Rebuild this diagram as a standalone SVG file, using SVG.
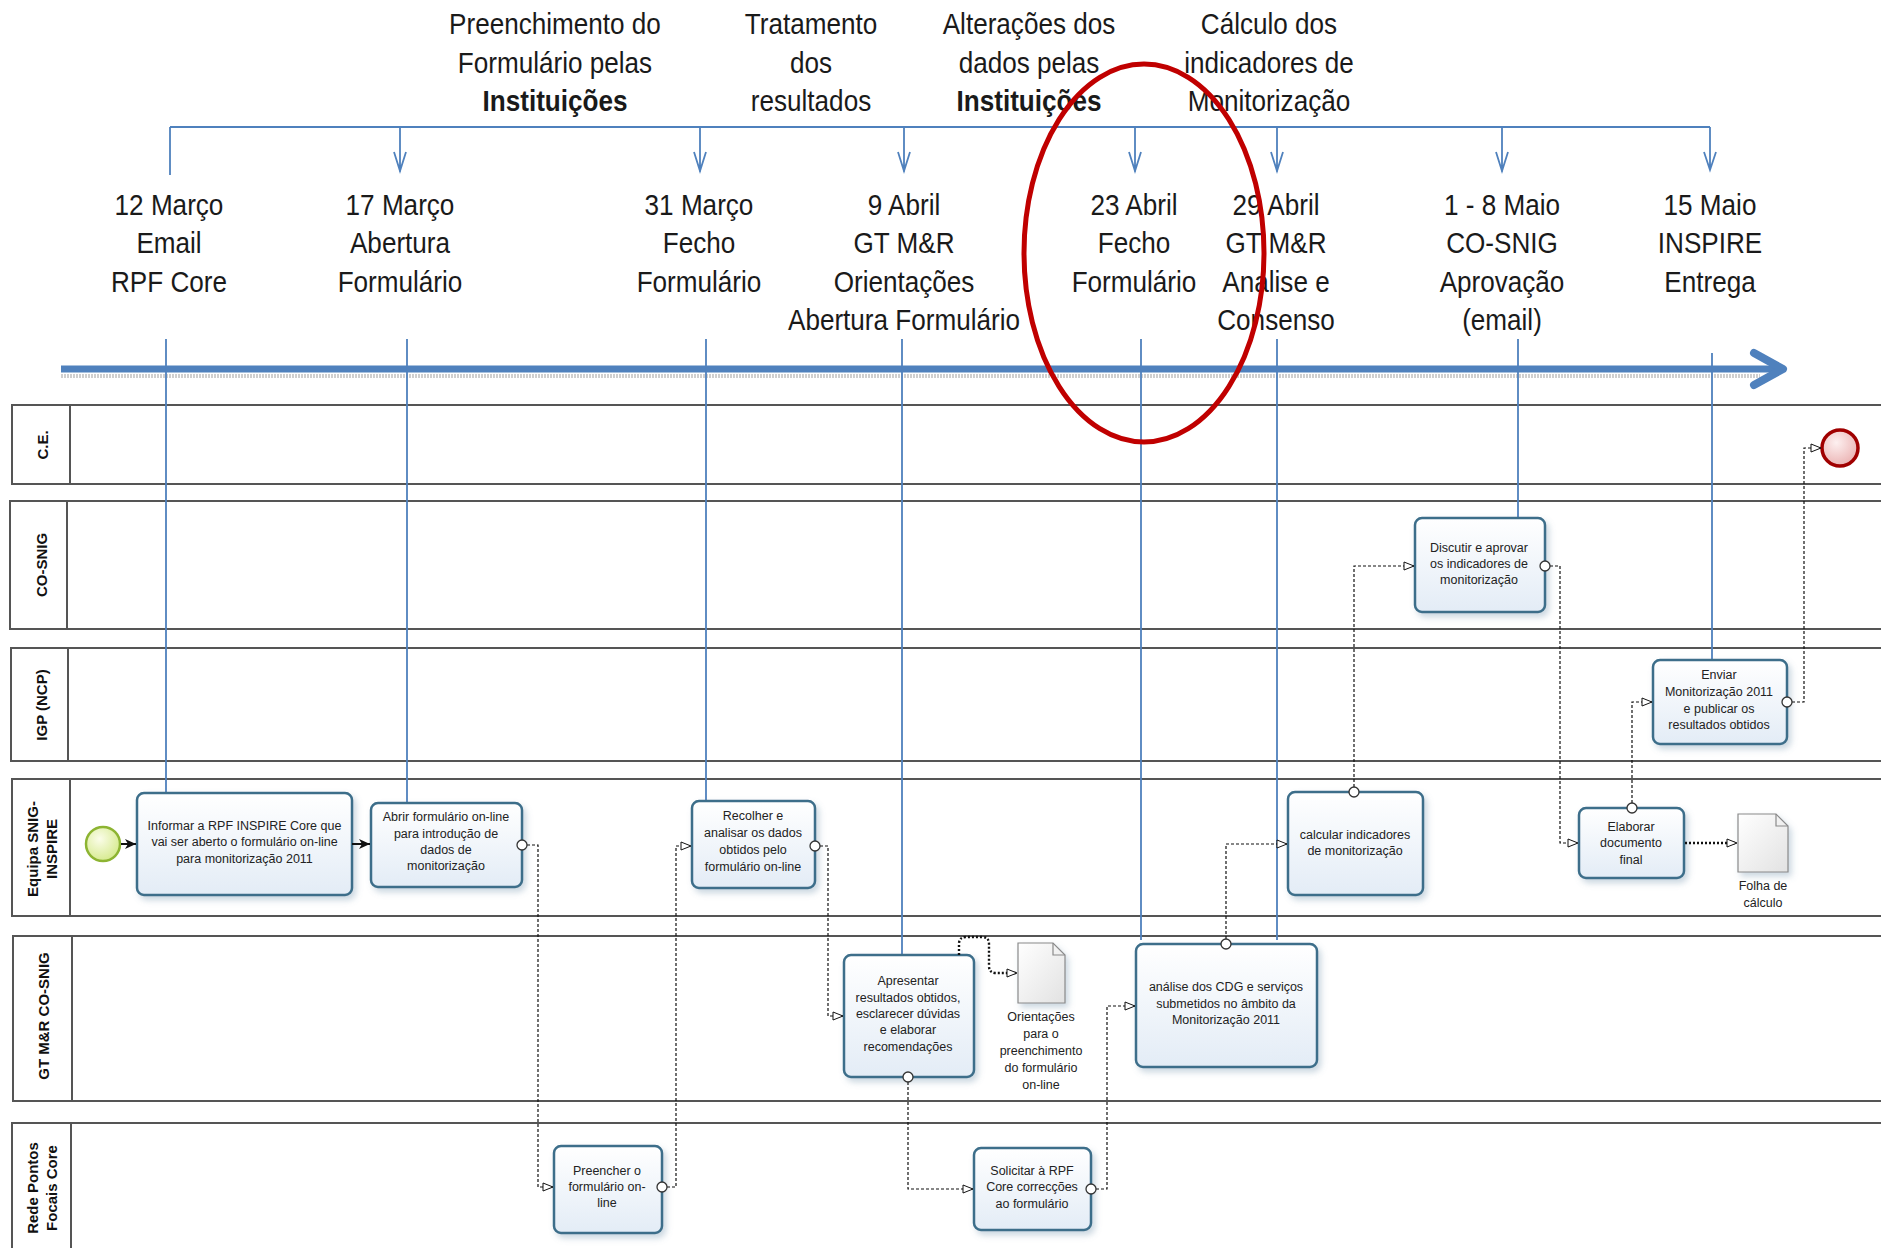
<svg xmlns="http://www.w3.org/2000/svg" width="1881" height="1248" viewBox="0 0 1881 1248">
<style>
.hd{font-family:"Liberation Sans",Arial,sans-serif;font-size:30px;fill:#1a1a1a;text-anchor:middle}
.hb{font-weight:bold}
.tk{font-family:"Liberation Sans",Arial,sans-serif;font-size:12.5px;fill:#222;text-anchor:middle}
.ln{font-family:"Liberation Sans",Arial,sans-serif;font-weight:bold;font-size:15px;fill:#111;text-anchor:middle}
.lane{fill:none;stroke:#555;stroke-width:2}
.blue{fill:none;stroke:#4F81BD;stroke-width:1.8}
.box{fill:url(#bg);stroke:#3C6E8A;stroke-width:2.5;filter:url(#sh)}
.doc{fill:url(#dg);stroke:#8a8a8a;stroke-width:1.2;filter:url(#sh)}
.flow{fill:none;stroke:#111;stroke-width:1.2;stroke-dasharray:3 2;marker-start:url(#oc);marker-end:url(#oa)}
.assoc{fill:none;stroke:#111;stroke-width:2.4;stroke-dasharray:2 2;marker-end:url(#oa)}
.seq{fill:none;stroke:#111;stroke-width:2;marker-end:url(#sa)}
</style>
<defs>
<linearGradient id="bg" x1="0" y1="0" x2="0" y2="1"><stop offset="0" stop-color="#ffffff"/><stop offset="1" stop-color="#e3ecf6"/></linearGradient>
<linearGradient id="dg" x1="0" y1="0" x2="1" y2="1"><stop offset="0" stop-color="#ffffff"/><stop offset="1" stop-color="#e2e2e2"/></linearGradient>
<radialGradient id="gs" cx="0.4" cy="0.35" r="0.7"><stop offset="0" stop-color="#fbfde9"/><stop offset="1" stop-color="#d4e98a"/></radialGradient>
<radialGradient id="ge" cx="0.4" cy="0.35" r="0.7"><stop offset="0" stop-color="#fdf0f0"/><stop offset="1" stop-color="#eab0b0"/></radialGradient>
<filter id="sh" x="-20%" y="-20%" width="150%" height="150%"><feDropShadow dx="3" dy="4" stdDeviation="3" flood-color="#6b8fa8" flood-opacity="0.35"/></filter>
<marker id="oa" viewBox="0 0 12 10" refX="11" refY="5" markerWidth="12" markerHeight="10" markerUnits="userSpaceOnUse" orient="auto"><path d="M1,1 L11,5 L1,9 Z" fill="#fff" stroke="#111" stroke-width="1"/></marker>
<marker id="oc" viewBox="0 0 14 14" refX="7" refY="7" markerWidth="14" markerHeight="14" markerUnits="userSpaceOnUse"><circle cx="7" cy="7" r="5" fill="#fff" stroke="#333" stroke-width="1.3"/></marker>
<marker id="sa" viewBox="0 0 12 10" refX="11" refY="5" markerWidth="12" markerHeight="10" markerUnits="userSpaceOnUse" orient="auto"><path d="M0,0 L11,5 L0,10 L3,5 Z" fill="#111"/></marker>
</defs>
<rect width="1881" height="1248" fill="#ffffff"/>

<g id="lanes">
<rect class="lane" x="12" y="405" width="1890" height="79"/><line class="lane" x1="70" y1="405" x2="70" y2="484"/>
<rect class="lane" x="10" y="501" width="1890" height="128"/><line class="lane" x1="67" y1="501" x2="67" y2="629"/>
<rect class="lane" x="11" y="648" width="1890" height="113"/><line class="lane" x1="68" y1="648" x2="68" y2="761"/>
<rect class="lane" x="12" y="779" width="1890" height="137"/><line class="lane" x1="70" y1="779" x2="70" y2="916"/>
<rect class="lane" x="13" y="936" width="1890" height="165"/><line class="lane" x1="72" y1="936" x2="72" y2="1101"/>
<rect class="lane" x="12" y="1123" width="1890" height="160"/><line class="lane" x1="71" y1="1123" x2="71" y2="1248"/>
<text class="ln" transform="translate(48,445) rotate(-90)">C.E.</text>
<text class="ln" transform="translate(47,565) rotate(-90)">CO-SNIG</text>
<text class="ln" transform="translate(47,705) rotate(-90)">IGP (NCP)</text>
<text class="ln" transform="translate(38,849) rotate(-90)">Equipa SNIG-</text>
<text class="ln" transform="translate(57,849) rotate(-90)">INSPIRE</text>
<text class="ln" transform="translate(49,1016) rotate(-90)">GT M&amp;R CO-SNIG</text>
<text class="ln" transform="translate(38,1188) rotate(-90)">Rede Pontos</text>
<text class="ln" transform="translate(57,1188) rotate(-90)">Focais Core</text>
</g>

<g id="header">
<g transform="translate(555,0) scale(0.87,1)"><text class="hd" x="0" y="34">Preenchimento do</text><text class="hd" x="0" y="73">Formulário pelas</text><text class="hd hb" x="0" y="111">Instituições</text></g>
<g transform="translate(811,0) scale(0.87,1)"><text class="hd" x="0" y="34">Tratamento</text><text class="hd" x="0" y="73">dos</text><text class="hd" x="0" y="111">resultados</text></g>
<g transform="translate(1029,0) scale(0.87,1)"><text class="hd" x="0" y="34">Alterações dos</text><text class="hd" x="0" y="73">dados pelas</text><text class="hd hb" x="0" y="111">Instituições</text></g>
<g transform="translate(1269,0) scale(0.87,1)"><text class="hd" x="0" y="34">Cálculo dos</text><text class="hd" x="0" y="73">indicadores de</text><text class="hd" x="0" y="111">Monitorização</text></g>

<path class="blue" d="M170,127 H1710"/>
<path class="blue" d="M170,127 V175"/>
<path class="blue" d="M400,127 V172 M394,152 L400,171 L406,152"/>
<path class="blue" d="M700,127 V172 M694,152 L700,171 L706,152"/>
<path class="blue" d="M904,127 V172 M898,152 L904,171 L910,152"/>
<path class="blue" d="M1135,127 V172 M1129,152 L1135,171 L1141,152"/>
<path class="blue" d="M1277,127 V172 M1271,152 L1277,171 L1283,152"/>
<path class="blue" d="M1502,127 V172 M1496,152 L1502,171 L1508,152"/>
<path class="blue" d="M1710,127 V170 M1704,152 L1710,170 L1716,152"/>

<g transform="translate(169,0) scale(0.87,1)"><text class="hd" x="0" y="215">12 Março</text><text class="hd" x="0" y="253.5">Email</text><text class="hd" x="0" y="292">RPF Core</text></g>
<g transform="translate(400,0) scale(0.87,1)"><text class="hd" x="0" y="215">17 Março</text><text class="hd" x="0" y="253.5">Abertura</text><text class="hd" x="0" y="292">Formulário</text></g>
<g transform="translate(699,0) scale(0.87,1)"><text class="hd" x="0" y="215">31 Março</text><text class="hd" x="0" y="253.5">Fecho</text><text class="hd" x="0" y="292">Formulário</text></g>
<g transform="translate(904,0) scale(0.87,1)"><text class="hd" x="0" y="215">9 Abril</text><text class="hd" x="0" y="253.5">GT M&amp;R</text><text class="hd" x="0" y="292">Orientações</text><text class="hd" x="0" y="330.5">Abertura Formulário</text></g>
<g transform="translate(1134,0) scale(0.87,1)"><text class="hd" x="0" y="215">23 Abril</text><text class="hd" x="0" y="253.5">Fecho</text><text class="hd" x="0" y="292">Formulário</text></g>
<g transform="translate(1276,0) scale(0.87,1)"><text class="hd" x="0" y="215">29 Abril</text><text class="hd" x="0" y="253.5">GT M&amp;R</text><text class="hd" x="0" y="292">Analise e</text><text class="hd" x="0" y="330.5">Consenso</text></g>
<g transform="translate(1502,0) scale(0.87,1)"><text class="hd" x="0" y="215">1 - 8 Maio</text><text class="hd" x="0" y="253.5">CO-SNIG</text><text class="hd" x="0" y="292">Aprovação</text><text class="hd" x="0" y="330.5">(email)</text></g>
<g transform="translate(1710,0) scale(0.87,1)"><text class="hd" x="0" y="215">15 Maio</text><text class="hd" x="0" y="253.5">INSPIRE</text><text class="hd" x="0" y="292">Entrega</text></g>
</g>

<g id="timeline">
<line x1="61" y1="376" x2="1760" y2="376" stroke="#cfcfcf" stroke-width="4" stroke-dasharray="2 1"/>
<line x1="61" y1="369" x2="1780" y2="369" stroke="#4F81BD" stroke-width="7"/>
<polyline points="1754,353 1783,369 1754,385" fill="none" stroke="#4F81BD" stroke-width="8" stroke-linecap="round" stroke-linejoin="round"/>
<path class="blue" d="M166,339 V792 M407,339 V803 M706,339 V801 M902,339 V955 M1141,339 V940 M1277,339 V940 M1518,339 V518 M1712,353 V660"/>
</g>

<g id="start"><circle cx="103" cy="844" r="17" fill="url(#gs)" stroke="#8DB432" stroke-width="2.5"/></g>
<g id="end"><circle cx="1840" cy="448" r="18" fill="url(#ge)" stroke="#A00000" stroke-width="3.5"/></g>

<g id="informar"><rect class="box" x="137" y="793" width="215" height="102" rx="7"/>
<text class="tk" x="244.5" y="830">Informar a RPF INSPIRE Core que</text><text class="tk" x="244.5" y="846">vai ser aberto o formulário on-line</text><text class="tk" x="244.5" y="863">para monitorização 2011</text></g>
<g id="abrir"><rect class="box" x="371" y="803" width="151" height="84" rx="7"/>
<text class="tk" x="446" y="821">Abrir formulário on-line</text><text class="tk" x="446" y="837.5">para introdução de</text><text class="tk" x="446" y="854">dados de</text><text class="tk" x="446" y="870">monitorização</text></g>
<g id="recolher"><rect class="box" x="692" y="801" width="123" height="87" rx="7"/>
<text class="tk" x="753" y="820">Recolher e</text><text class="tk" x="753" y="837">analisar os dados</text><text class="tk" x="753" y="854">obtidos pelo</text><text class="tk" x="753" y="871">formulário on-line</text></g>
<g id="preencher"><rect class="box" x="554" y="1146" width="108" height="87" rx="7"/>
<text class="tk" x="607" y="1175">Preencher o</text><text class="tk" x="607" y="1191">formulário on-</text><text class="tk" x="607" y="1207">line</text></g>
<g id="apresentar"><rect class="box" x="844" y="955" width="130" height="122" rx="7"/>
<text class="tk" x="908" y="985">Apresentar</text><text class="tk" x="908" y="1001.5">resultados obtidos,</text><text class="tk" x="908" y="1018">esclarecer dúvidas</text><text class="tk" x="908" y="1034">e elaborar</text><text class="tk" x="908" y="1051">recomendações</text></g>
<g id="orientacoes"><path class="doc" d="M1018,943 H1053 L1065,955 V1003 H1018 Z"/><path d="M1053,943 V955 H1065" fill="none" stroke="#8a8a8a" stroke-width="1.2"/>
<text class="tk" x="1041" y="1021">Orientações</text><text class="tk" x="1041" y="1038">para o</text><text class="tk" x="1041" y="1055">preenchimento</text><text class="tk" x="1041" y="1072">do formulário</text><text class="tk" x="1041" y="1089">on-line</text></g>
<g id="solicitar"><rect class="box" x="974" y="1148" width="117" height="82" rx="7"/>
<text class="tk" x="1032" y="1175">Solicitar  à RPF</text><text class="tk" x="1032" y="1191">Core  correcções</text><text class="tk" x="1032" y="1208">ao formulário</text></g>
<g id="analise"><rect class="box" x="1136" y="944" width="181" height="123" rx="7"/>
<text class="tk" x="1226" y="991">análise dos CDG e serviços</text><text class="tk" x="1226" y="1008">submetidos no âmbito da</text><text class="tk" x="1226" y="1024">Monitorização 2011</text></g>
<g id="calcular"><rect class="box" x="1288" y="792" width="135" height="103" rx="7"/>
<text class="tk" x="1355" y="839">calcular indicadores</text><text class="tk" x="1355" y="855">de monitorização</text></g>
<g id="discutir"><rect class="box" x="1415" y="518" width="130" height="94" rx="7"/>
<text class="tk" x="1479" y="552">Discutir e aprovar</text><text class="tk" x="1479" y="568">os indicadores de</text><text class="tk" x="1479" y="584">monitorização</text></g>
<g id="enviar"><rect class="box" x="1653" y="660" width="134" height="84" rx="7"/>
<text class="tk" x="1719" y="679">Enviar</text><text class="tk" x="1719" y="696">Monitorização 2011</text><text class="tk" x="1719" y="713">e publicar os</text><text class="tk" x="1719" y="729">resultados obtidos</text></g>
<g id="elaborar"><rect class="box" x="1579" y="808" width="105" height="70" rx="7"/>
<text class="tk" x="1631" y="831">Elaborar</text><text class="tk" x="1631" y="847">documento</text><text class="tk" x="1631" y="864">final</text></g>
<g id="folha"><path class="doc" d="M1738,814 H1776 L1788,826 V872 H1738 Z"/><path d="M1776,814 V826 H1788" fill="none" stroke="#8a8a8a" stroke-width="1.2"/>
<text class="tk" x="1763" y="890">Folha de</text><text class="tk" x="1763" y="907">cálculo</text></g>

<g id="connectors">
<path class="seq" d="M121,844 H136"/>
<path class="seq" d="M352,844 H370"/>
<path class="flow" d="M522,845 H538 V1187 H553"/>
<path class="flow" d="M662,1187 H676 V846 H691"/>
<path class="flow" d="M815,846 H828 V1016 H843"/>
<path class="flow" d="M908,1077 V1189 H973"/>
<path class="flow" d="M1091,1189 H1107 V1006 H1135"/>
<path class="flow" d="M1226,944 V844 H1287"/>
<path class="flow" d="M1354,792 V566 H1414"/>
<path class="flow" d="M1545,566 H1560 V843 H1578"/>
<path class="flow" d="M1632,808 V702 H1652"/>
<path class="flow" d="M1787,702 H1804 V448 H1821"/>
<path class="assoc" d="M959,955 V944 Q959,937 966,937 H982 Q989,937 989,944 V966 Q989,973 996,973 H1017"/>
<path class="assoc" d="M1685,843 H1737"/>
</g>

<g id="highlight"><ellipse cx="1144" cy="253" rx="120" ry="189" fill="none" stroke="#C00000" stroke-width="5"/></g>
</svg>
